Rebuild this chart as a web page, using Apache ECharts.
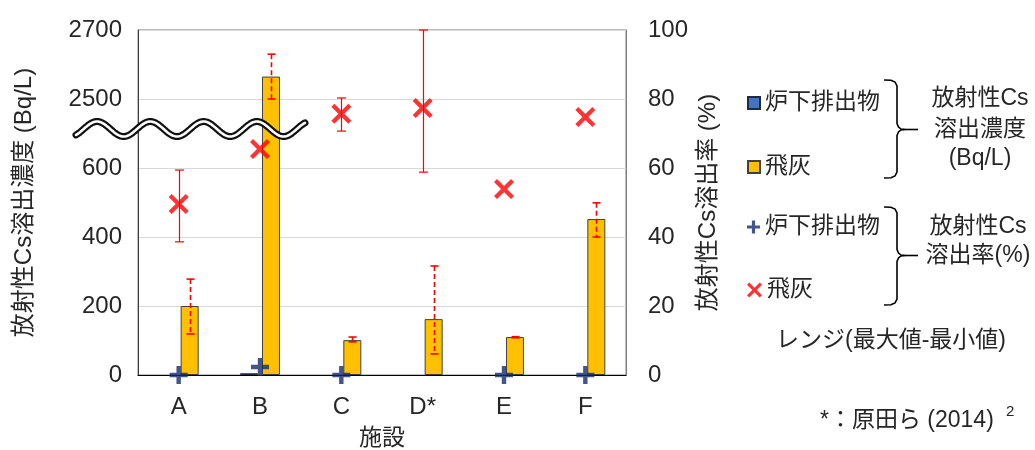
<!DOCTYPE html>
<html>
<head>
<meta charset="utf-8">
<script src="https://cdn.jsdelivr.net/npm/echarts@6/dist/echarts.min.js"></script>
<style>
  html, body { margin: 0; padding: 0; background: #fff; }
  #chart { width: 1035px; height: 450px; }
</style>
</head>
<body>
<div id="chart"></div>
<script>
// 施設
const facilities = ['A', 'B', 'C', 'D*', 'E', 'F'];

// 放射性Cs溶出濃度 (Bq/L)
const bottomAshConc = [0, 5, 0, null, 0, 0];
const flyAshConc = [200, 2565, 101, 162, 110, 452];
const flyAshConcMin = [119, 2500, 96, 61, 108, 400];
const flyAshConcMax = [278, 2630, 110, 316, 111, 499];

// 放射性Cs溶出率 (%)
const bottomAshRate = [0, 2.3, 0, null, 0, 0];
const flyAshRate = [49.6, 65.5, 75.7, 77.4, 53.9, 74.8];
const flyAshRateMin = [38.6, null, 70.7, 58.8, null, null];
const flyAshRateMax = [59.4, null, 80.3, 100, null, null];

// broken left axis: 0–600 below the break, 2500–2700 above it
const leftTickLabels = ['0', '200', '400', '600', '2500', '2700'];
const rightTickLabels = ['0', '20', '40', '60', '80', '100'];

const FONT = "'Liberation Sans', 'Noto Sans CJK JP', sans-serif";
const TXT = '#262626';
const RED = '#ff0000';
const NAVY = '#142a6e';

// concentration -> position on the broken scale (0..100)
function brokenScale(v) {
  if (v == null) return '-';
  return v < 2000 ? v / 10 : v / 10 - 170;
}

const CROSS = 'path://M3,0 L10,7 L17,0 L20,3 L13,10 L20,17 L17,20 L10,13 L3,20 L0,17 L7,10 L0,3 Z';
const PLUS = 'path://M6.8,0 H11.2 V6.8 H18 V11.2 H11.2 V18 H6.8 V11.2 H0 V6.8 H6.8 Z';

const BAR_W = 18;
const FLY_OFFSET = 11; // fly-ash bar sits to the right of its category centre

function errorSeries(lo, hi, conv, yIdx, offset, dashed, cap, lw) {
  const data = [];
  lo.forEach((v, i) => {
    if (v != null && hi[i] != null) data.push([i, conv(v), conv(hi[i])]);
  });
  return {
    type: 'custom',
    yAxisIndex: yIdx,
    z: 6,
    silent: true,
    data: data,
    renderItem: function (params, api) {
      const p1 = api.coord([api.value(0), api.value(1)]);
      const p2 = api.coord([api.value(0), api.value(2)]);
      const x = Math.round(p1[0] + offset) + 0.5;
      const solid = { stroke: RED, lineWidth: lw, fill: null };
      const body = { stroke: RED, lineWidth: lw, fill: null, lineDash: dashed ? [5, 3] : null };
      return {
        type: 'group',
        children: [
          { type: 'line', shape: { x1: x, y1: p2[1], x2: x, y2: p1[1] }, style: body },
          { type: 'line', shape: { x1: x - cap, y1: p2[1], x2: x + cap, y2: p2[1] }, style: solid },
          { type: 'line', shape: { x1: x - cap, y1: p1[1], x2: x + cap, y2: p1[1] }, style: solid }
        ]
      };
    }
  };
}

const chart = echarts.init(document.getElementById('chart'), null, { renderer: 'canvas' });

const legendText = { fontFamily: FONT, fontSize: 23, color: TXT, lineHeight: 26 };
function oneLegend(name, top, w, h, icon) {
  const l = {
    data: [name], orient: 'vertical', left: 742, top: top,
    itemWidth: w, itemHeight: h, itemGap: 0, selectedMode: false,
    textStyle: legendText,
    formatter: n => n.trim()
  };
  if (icon) l.icon = icon;
  return l;
}

function braceLines(yTop, yBot, yMid) {
  const xs = 884, xv = 897;
  return {
    type: 'polyline',
    shape: {
      points: [
        [xs, yTop], [891, yTop + 0.3], [895, yTop + 2], [xv, yTop + 6],
        [xv, yMid - 6], [898.5, yMid - 2.5], [901, yMid - 0.5], [904, yMid],
        [901, yMid + 0.5], [898.5, yMid + 2.5], [xv, yMid + 6],
        [xv, yBot - 6], [895, yBot - 2], [891, yBot - 0.3], [xs, yBot]
      ]
    },
    style: { stroke: '#000', lineWidth: 1.6, fill: null }
  };
}

function label(text, x, y, align) {
  return {
    type: 'text', x: x, y: y, z: 10,
    style: {
      text: text, fontFamily: FONT, fontSize: 23, fill: TXT,
      align: align || 'center', verticalAlign: 'middle'
    }
  };
}

const option = {
  animation: false,
  backgroundColor: '#fff',
  grid: {
    left: 138, right: 409, top: 30, bottom: 75,
    outerBoundsMode: 'none',
    containLabel: false,
    show: true, borderColor: '#7f7f7f', borderWidth: 1
  },
  legend: [
    oneLegend('炉下排出物', 85, 12, 12, 'rect'),
    oneLegend('飛灰', 149, 12, 12, 'rect'),
    oneLegend('炉下排出物 ', 209, 13, 13),
    oneLegend('飛灰 ', 272, 15, 15)
  ],
  xAxis: {
    type: 'category',
    data: facilities,
    axisLine: { lineStyle: { color: '#000', width: 1.2 } },
    axisTick: { show: false },
    axisLabel: { fontFamily: FONT, fontSize: 24, color: TXT, margin: 20 },
    name: '施設',
    nameLocation: 'middle',
    nameGap: 52,
    nameTextStyle: { fontFamily: FONT, fontSize: 23, color: TXT }
  },
  yAxis: [
    {
      type: 'value', min: 0, max: 100, interval: 20, position: 'left',
      axisLine: { show: true, lineStyle: { color: '#404040' } },
      axisTick: { show: false },
      splitLine: { show: true, lineStyle: { color: '#d9d9d9', width: 1.2 } },
      axisLabel: {
        fontFamily: FONT, fontSize: 24, color: TXT, margin: 16,
        formatter: v => leftTickLabels[Math.round(v / 20)]
      },
      name: '放射性Cs溶出濃度 (Bq/L)',
      nameLocation: 'middle', nameRotate: 90, nameGap: 102,
      nameTextStyle: { fontFamily: FONT, fontSize: 24, color: TXT }
    },
    {
      type: 'value', min: 0, max: 100, interval: 20, position: 'right',
      axisLine: { show: true, lineStyle: { color: '#7f7f7f' } },
      axisTick: { show: false },
      splitLine: { show: false },
      axisLabel: {
        fontFamily: FONT, fontSize: 24, color: TXT, margin: 22,
        formatter: v => rightTickLabels[Math.round(v / 20)]
      },
      name: '放射性Cs溶出率 (%)',
      nameLocation: 'middle', nameRotate: 90, nameGap: 70,
      nameTextStyle: { fontFamily: FONT, fontSize: 24, color: TXT }
    }
  ],
  series: [
    {
      name: '炉下排出物', type: 'bar', yAxisIndex: 0,
      barWidth: BAR_W, barGap: '22%',
      // zero-height bars get no outline so only real values leave a mark
      data: bottomAshConc.map(v => v === 0 ? { value: 0, itemStyle: { borderWidth: 0, opacity: 0 } } : brokenScale(v)),
      itemStyle: { color: '#4472c4', borderColor: '#1f2a44', borderWidth: 1 },
      z: 2
    },
    {
      name: '飛灰', type: 'bar', yAxisIndex: 0,
      barWidth: BAR_W,
      data: flyAshConc.map(brokenScale),
      itemStyle: { color: '#ffc000', borderColor: '#404040', borderWidth: 1 },
      z: 2
    },
    errorSeries(flyAshConcMin, flyAshConcMax, brokenScale, 0, FLY_OFFSET, true, 4, 1.6),
    errorSeries(flyAshRateMin, flyAshRateMax, v => v, 1, 0, false, 4.5, 1.2),
    {
      name: '炉下排出物 ', type: 'scatter', yAxisIndex: 1,
      symbol: PLUS, symbolSize: 18, symbolKeepAspect: true,
      data: bottomAshRate.map(v => v == null ? '-' : v),
      itemStyle: { color: NAVY },
      z: 8
    },
    {
      name: '飛灰 ', type: 'scatter', yAxisIndex: 1,
      symbol: CROSS, symbolSize: 20, symbolKeepAspect: true,
      data: flyAshRate.map(v => v == null ? '-' : v),
      itemStyle: { color: RED },
      z: 8
    }
  ],
  graphic: [
    braceLines(80, 178, 129.5),
    { type: 'line', shape: { x1: 903, y1: 129.5, x2: 918, y2: 129.5 }, style: { stroke: '#000', lineWidth: 1.6 } },
    braceLines(207, 305, 255.5),
    { type: 'line', shape: { x1: 903, y1: 255.5, x2: 918, y2: 255.5 }, style: { stroke: '#000', lineWidth: 1.6 } },
    label('放射性Cs', 980, 99),
    label('溶出濃度', 980, 130),
    label('(Bq/L)', 980, 159),
    label('放射性Cs', 978, 227),
    label('溶出率(%)', 978, 256),
    label('レンジ(最大値-最小値)', 891, 341),
    label('*：原田ら (2014)', 820, 421, 'left'),
    {
      type: 'text', x: 1006, y: 412, z: 10,
      style: { text: '2', fontFamily: FONT, fontSize: 15, fill: TXT, align: 'left', verticalAlign: 'middle' }
    }
  ]
};

chart.setOption(option);

// wavy break mark across the left axis, between 600 and 2500
const breakY = chart.convertToPixel({ yAxisIndex: 0 }, 71.3);
const wavePts = [];
for (let x = 76; x <= 305; x += 1) {
  wavePts.push([x, breakY - 7.5 * Math.cos(2 * Math.PI * (x - 97) / 53.3)]);
}
chart.setOption({
  graphic: option.graphic.concat([
    { type: 'polyline', z: 20, shape: { points: wavePts, smooth: 0 }, style: { stroke: '#111', lineWidth: 7, fill: null, lineCap: 'round', lineJoin: 'round' } },
    { type: 'polyline', z: 21, shape: { points: wavePts, smooth: 0 }, style: { stroke: '#fff', lineWidth: 2.6, fill: null, lineCap: 'round', lineJoin: 'round' } }
  ])
});
</script>
</body>
</html>
